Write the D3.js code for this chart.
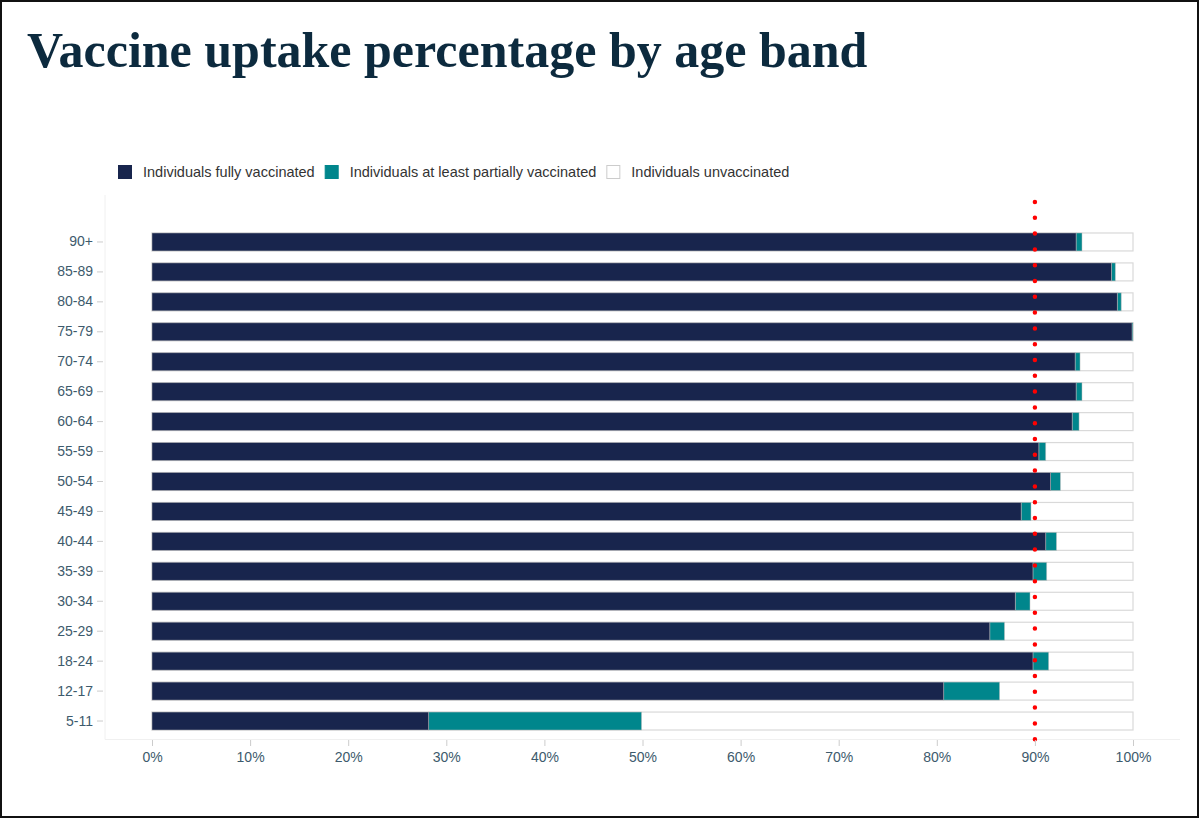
<!DOCTYPE html>
<html>
<head>
<meta charset="utf-8">
<script src="https://cdn.jsdelivr.net/npm/d3@7"></script>
<style>
  body { margin: 0; background: #fff; }
  svg { display: block; }
</style>
</head>
<body>
<svg id="chart"></svg>
<script>
// age bands, top to bottom
const ageBands = ['90+', '85-89', '80-84', '75-79', '70-74', '65-69', '60-64', '55-59', '50-54',
  '45-49', '40-44', '35-39', '30-34', '25-29', '18-24', '12-17', '5-11']
// % fully vaccinated
const fullyVaccinated = [94.2, 97.8, 98.4, 99.9, 94.1, 94.2, 93.8, 90.4, 91.6,
  88.6, 91.1, 89.8, 88.0, 85.4, 89.8, 80.7, 28.2]
// % at least partially vaccinated (cumulative, includes fully)
const partiallyVaccinated = [94.8, 98.2, 98.8, 100, 94.6, 94.8, 94.5, 91.1, 92.6,
  89.6, 92.2, 91.2, 89.5, 86.9, 91.4, 86.4, 49.9]
const xTicks = [0, 10, 20, 30, 40, 50, 60, 70, 80, 90, 100]
const targetLine = 90
const legendLabels = ['Individuals fully vaccinated', 'Individuals at least partially vaccinated', 'Individuals unvaccinated']

const width = 1199
const height = 818
const navy = '#18254d'
const teal = '#00868c'
const axisText = '#3d5a6c'

const svg = d3.select('#chart')
  .attr('width', width)
  .attr('height', height)

// outer frame
svg.append('rect')
  .attr('x', 1).attr('y', 1)
  .attr('width', width - 2).attr('height', height - 2)
  .attr('fill', '#fff')
  .attr('stroke', '#111')
  .attr('stroke-width', 2)

// title
svg.append('text')
  .attr('x', 27)
  .attr('y', 67)
  .attr('fill', '#0c2a3e')
  .style('font-family', '"Liberation Serif", "DejaVu Serif", serif')
  .style('font-weight', 'bold')
  .style('font-size', '50px')
  .text('Vaccine uptake percentage by age band')

// scales
const xScale = d3.scaleLinear().domain([0, 100]).range([152, 1133])
const yScale = d3.scaleBand()
  .domain(ageBands)
  .range([227, 736])
  .paddingInner(0.4)
  .paddingOuter(0.2)

const rows = ageBands.map((band, i) => ({
  band,
  full: fullyVaccinated[i],
  partial: partiallyVaccinated[i]
}))

// faint panel lines
svg.append('line')
  .attr('x1', 105).attr('x2', 105)
  .attr('y1', 195).attr('y2', 739.5)
  .attr('stroke', '#f0f0f0')
svg.append('line')
  .attr('x1', 105).attr('x2', 1180)
  .attr('y1', 739.5).attr('y2', 739.5)
  .attr('stroke', '#f0f0f0')

// legend
const legendColors = [navy, teal, '#fff']
const legend = svg.append('g')
  .attr('transform', 'translate(118,165)')
let lx = 0
legendLabels.forEach((label, i) => {
  const g = legend.append('g').attr('transform', `translate(${lx},0)`)
  g.append('rect')
    .attr('x', 0.5).attr('y', 0.5)
    .attr('width', 13).attr('height', 13)
    .attr('fill', legendColors[i])
    .attr('stroke', i === 2 ? '#ccc' : legendColors[i])
  const t = g.append('text')
    .attr('x', 25)
    .attr('y', 12)
    .attr('fill', '#333')
    .style('font-family', '"Liberation Sans", Arial, sans-serif')
    .style('font-size', '14.5px')
    .text(label)
  lx += 25 + t.node().getComputedTextLength() + 10
})

const chart = svg.append('g')

// background (unvaccinated) bars
chart.selectAll('.bar-bg')
  .data(rows)
  .enter()
  .append('rect')
  .attr('x', xScale(0))
  .attr('y', d => yScale(d.band))
  .attr('width', xScale(100) - xScale(0))
  .attr('height', yScale.bandwidth())
  .attr('fill', '#fff')
  .attr('stroke', '#d9d9d9')
  .attr('stroke-width', 1.2)

// partial vaccination segment
chart.selectAll('.bar-partial')
  .data(rows)
  .enter()
  .append('rect')
  .attr('x', d => xScale(d.full))
  .attr('y', d => yScale(d.band))
  .attr('width', d => xScale(d.partial) - xScale(d.full))
  .attr('height', yScale.bandwidth())
  .attr('fill', teal)
  .attr('stroke', 'rgba(190,190,190,0.6)')
  .attr('stroke-width', 0.8)

// fully vaccinated segment
chart.selectAll('.bar-full')
  .data(rows)
  .enter()
  .append('rect')
  .attr('x', xScale(0))
  .attr('y', d => yScale(d.band))
  .attr('width', d => xScale(d.full) - xScale(0))
  .attr('height', yScale.bandwidth())
  .attr('fill', navy)
  .attr('stroke', 'rgba(190,190,190,0.6)')
  .attr('stroke-width', 0.8)

// 90% target line
const yTop = yScale.range()[0] - 25
svg.append('line')
  .attr('x1', xScale(targetLine)).attr('x2', xScale(targetLine))
  .attr('y1', yTop).attr('y2', 740)
  .attr('stroke', '#ff0000')
  .attr('stroke-width', 4.5)
  .attr('stroke-linecap', 'round')
  .attr('stroke-dasharray', '0,15.8')

// y axis
const yAxis = svg.append('g')
  .attr('transform', 'translate(103,0)')
  .call(d3.axisLeft(yScale).tickSize(6).tickPadding(4))
yAxis.select('.domain').remove()
yAxis.selectAll('line').attr('stroke', '#ccc')
yAxis.selectAll('text')
  .attr('fill', axisText)
  .style('font-family', '"Liberation Sans", Arial, sans-serif')
  .style('font-size', '14px')

// x axis
const xAxis = svg.append('g')
  .attr('transform', 'translate(0,740)')
  .call(d3.axisBottom(xScale).tickValues(xTicks).tickFormat(d => d + '%').tickSize(6).tickPadding(6))
xAxis.select('.domain').remove()
xAxis.selectAll('line').attr('stroke', '#ccc')
xAxis.selectAll('text')
  .attr('fill', axisText)
  .style('font-family', '"Liberation Sans", Arial, sans-serif')
  .style('font-size', '14px')
</script>
</body>
</html>
